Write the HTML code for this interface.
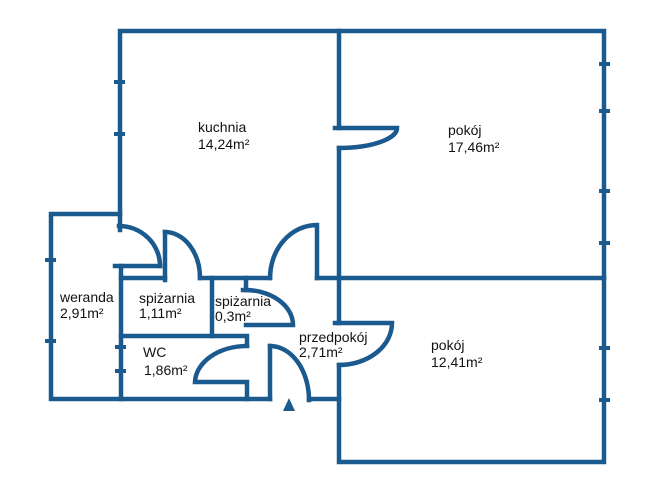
<!DOCTYPE html>
<html><head><meta charset="utf-8"><style>
html,body{margin:0;padding:0;background:#fff;}
svg{display:block;}
text{font-family:"Liberation Sans",sans-serif;fill:#111;font-size:14px;}
</style></head><body>
<svg width="645" height="488" viewBox="0 0 645 488" xmlns="http://www.w3.org/2000/svg">
<g stroke="#1b5a8e" stroke-width="4.5" fill="none" stroke-linecap="square">
<path d="M120,230 V31 H604 V462 H339 V365"/>
<path d="M339,31 V128"/>
<path d="M339,148 V278 V323"/>
<path d="M335,128 H397 A58,20 0 0 1 339,148"/>
<path d="M317,278 H604"/>
<path d="M120,214 H51 V399 H270"/>
<path d="M121,266 V399"/>
<path d="M115,266 H160"/>
<path d="M119,226 A41,40 0 0 1 160,266"/>
<path d="M121,278 H165"/>
<path d="M165,232 V280"/>
<path d="M165,232 A35,46 0 0 1 200,278"/>
<path d="M200,278 H270"/>
<path d="M212,278 V336"/>
<path d="M121,336 H247 V345"/>
<path d="M246,278 V290"/>
<path d="M243,290 A48,35 0 0 1 293,325 H246"/>
<path d="M270,278 A47,53 0 0 1 317,225 V278"/>
<path d="M247,346 A52,37 0 0 0 195,382 H247 V399"/>
<path d="M270,346 V399"/>
<path d="M270,346 A39,54 0 0 1 309,400"/>
<path d="M309,399 H339"/>
<path d="M335,323 H392 A53,42 0 0 1 339,365"/>
</g>
<g fill="#1b5a8e">
<rect x="599" y="62" width="11" height="4"/>
<rect x="599" y="109" width="11" height="4"/>
<rect x="599" y="189" width="11" height="4"/>
<rect x="599" y="241" width="11" height="4"/>
<rect x="599" y="346" width="11" height="4"/>
<rect x="599" y="398" width="11" height="4"/>
<rect x="114" y="80" width="11" height="4"/>
<rect x="114" y="132" width="11" height="4"/>
<rect x="45" y="258" width="11" height="4"/>
<rect x="45" y="339" width="11" height="4"/>
<rect x="115" y="345" width="11" height="4"/>
<rect x="115" y="369" width="11" height="4"/>
<polygon points="289,398 283,411 295,411"/>
</g>
<text x="198" y="132">kuchnia</text>
<text x="198" y="149">14,24m²</text>
<text x="448" y="135">pokój</text>
<text x="448" y="152">17,46m²</text>
<text x="60" y="302">weranda</text>
<text x="60" y="318">2,91m²</text>
<text x="139" y="303">spiżarnia</text>
<text x="139" y="318">1,11m²</text>
<text x="215" y="306">spiżarnia</text>
<text x="215" y="321">0,3m²</text>
<text x="143" y="357">WC</text>
<text x="144" y="375">1,86m²</text>
<text x="299" y="342">przedpokój</text>
<text x="299" y="357">2,71m²</text>
<text x="431" y="350">pokój</text>
<text x="431" y="367">12,41m²</text>
</svg>
</body></html>
